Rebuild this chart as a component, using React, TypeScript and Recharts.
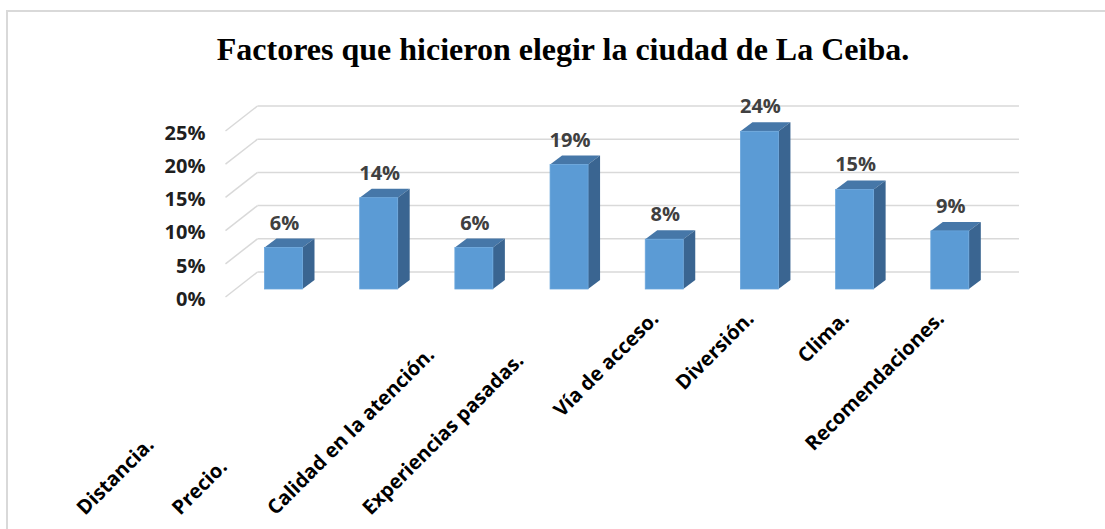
import { BarChart, Bar, XAxis, YAxis, CartesianGrid, LabelList } from "recharts";

const categories = [
  "Distancia.",
  "Precio.",
  "Calidad en la atención.",
  "Experiencias pasadas.",
  "Vía de acceso.",
  "Diversión.",
  "Clima.",
  "Recomendaciones.",
];
const shares = [6.25, 13.75, 6.25, 18.75, 7.5, 23.75, 15, 8.75];
const yTicks = [0, 5, 10, 15, 20, 25];

const data = categories.map((name, i) => ({ name, value: shares[i] }));

const W = 1105;
const H = 529;
const PLOT_LEFT = 235.5;
const PLOT_RIGHT = 997;
const PLOT_TOP = 123;
const PLOT_BOTTOM = 289;
const X_AXIS_H = 30;
const Y_AXIS_W = 60;

// oblique offsets: bar depth, and bar plane -> back wall / front edge
const BAR_DX = 12;
const BAR_DY = 9;
const BACK_DX = 22;
const BACK_DY = 17;
const FRONT_DX = 10;
const FRONT_DY = 8;

const FRONT = "#5B9BD5";
const TOP = "#4677A8";
const SIDE = "#3A6591";
const GRID = "#D9D9D9";

const Bar3D = (props: any) => {
  const { x, y, width: w, height: h } = props;
  if (h == null || h <= 0) return null;
  return (
    <g>
      <polygon
        points={`${x},${y} ${x + BAR_DX},${y - BAR_DY} ${x + w + BAR_DX},${y - BAR_DY} ${x + w},${y}`}
        fill={TOP}
      />
      <polygon
        points={`${x + w},${y} ${x + w + BAR_DX},${y - BAR_DY} ${x + w + BAR_DX},${y + h - BAR_DY} ${x + w},${y + h}`}
        fill={SIDE}
      />
      <rect x={x} y={y} width={w} height={h} fill={FRONT} stroke="#6AA6DC" strokeWidth={0.8} />
    </g>
  );
};

const GridLine3D = (props: any) => {
  const { x1, x2, y1 } = props;
  return (
    <g>
      <line
        x1={x1 - FRONT_DX}
        y1={y1 + FRONT_DY}
        x2={x1 + BACK_DX}
        y2={y1 - BACK_DY}
        stroke={GRID}
        strokeWidth={1.5}
      />
      <line
        x1={x1 + BACK_DX}
        y1={y1 - BACK_DY}
        x2={x2 + BACK_DX}
        y2={y1 - BACK_DY}
        stroke={GRID}
        strokeWidth={1.5}
      />
    </g>
  );
};

const YTick = (props: any) => {
  const { y, payload } = props;
  return (
    <text
      x={PLOT_LEFT - FRONT_DX - 20}
      y={y + FRONT_DY + 1.5}
      dy="0.36em"
      textAnchor="end"
      fontFamily="'Open Sans', sans-serif"
      fontWeight={700}
      fontSize={20}
      fill="#1f1f1f"
    >
      {payload.value}%
    </text>
  );
};

// Excel pushed the first few rotated labels down to the bottom edge
const BOTTOM_ANCHORED = 4;

const XTick = (props: any) => {
  const { x, payload, index } = props;
  const bottom = index < BOTTOM_ANCHORED;
  const tx = bottom ? x - 198 : x - 4;
  const ty = bottom ? 516 : 320;
  return (
    <text
      x={tx}
      y={ty}
      textAnchor={bottom ? "start" : "end"}
      transform={`rotate(-45, ${tx}, ${ty})`}
      fontFamily="'Open Sans', sans-serif"
      fontWeight={700}
      fontSize={20}
      fill="#000"
    >
      {payload.value}
    </text>
  );
};

const ValueLabel = (props: any) => {
  const { x, y, width, value } = props;
  return (
    <text
      x={x + width / 2 + 1}
      y={y - 18}
      textAnchor="middle"
      fontFamily="'Open Sans', sans-serif"
      fontWeight={700}
      fontSize={20}
      fill="#404040"
    >
      {Math.round(value)}%
    </text>
  );
};

export default function App() {
  return (
    <div
      style={{
        position: "absolute",
        left: 0,
        top: 0,
        width: W,
        height: H,
        background: "#fff",
        overflow: "hidden",
      }}
    >
      <div
        style={{
          position: "absolute",
          left: 6,
          top: 10,
          width: W,
          height: H,
          border: `2px solid ${GRID}`,
        }}
      />
      <div
        style={{
          position: "absolute",
          left: 0,
          width: 1126,
          top: 30,
          textAlign: "center",
          fontFamily: "'Liberation Serif', 'Times New Roman', serif",
          fontWeight: 700,
          fontSize: 32,
          lineHeight: "38px",
          color: "#000",
        }}
      >
        Factores que hicieron elegir la ciudad de La Ceiba.
      </div>
      <div style={{ position: "absolute", left: 0, top: 0 }}>
        <BarChart
          width={W}
          height={H}
          data={data}
          margin={{
            top: PLOT_TOP,
            right: W - PLOT_RIGHT,
            left: PLOT_LEFT - Y_AXIS_W,
            bottom: H - PLOT_BOTTOM - X_AXIS_H,
          }}
        >
          <CartesianGrid vertical={false} horizontal={GridLine3D} />
          <XAxis
            dataKey="name"
            height={X_AXIS_H}
            axisLine={false}
            tickLine={false}
            interval={0}
            tick={XTick}
          />
          <YAxis
            width={Y_AXIS_W}
            domain={[0, 25]}
            ticks={yTicks}
            interval={0}
            axisLine={false}
            tickLine={false}
            tick={YTick}
          />
          <Bar dataKey="value" barSize={38} shape={Bar3D} isAnimationActive={false}>
            <LabelList dataKey="value" content={ValueLabel} />
          </Bar>
        </BarChart>
      </div>
    </div>
  );
}
